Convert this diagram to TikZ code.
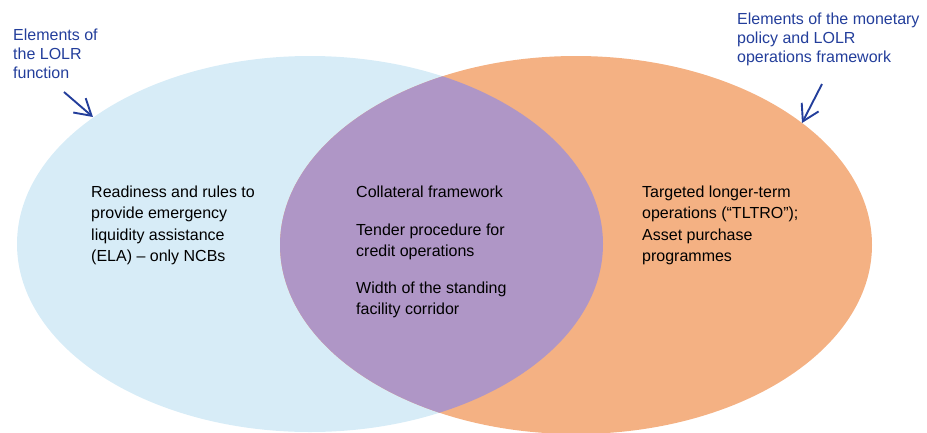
\documentclass[tikz,border=0pt]{standalone}
\usepackage{fontspec}
\setmainfont{Liberation Sans}
\usetikzlibrary{arrows.meta}
\definecolor{lolrblue}{RGB}{215,236,247}
\definecolor{mporange}{RGB}{244,177,131}
\definecolor{overlap}{RGB}{175,150,198}
\definecolor{labelblue}{RGB}{35,62,155}
\tikzset{
  bodytext/.style={anchor=north west, inner sep=0pt, align=left, text=black,
    font=\fontsize{16}{21.5}\selectfont},
  labeltext/.style={anchor=north west, inner sep=0pt, align=left, text=labelblue,
    font=\fontsize{16}{19}\selectfont},
  pointer/.style={draw=labelblue, line width=1.9pt,
    -{Straight Barb[length=16pt, width=19pt, line width=1.9pt]}}
}
\begin{document}
\begin{tikzpicture}[x=1pt, y=-1pt]
  \useasboundingbox (0,0) rectangle (927,432);
  % circles
  \fill[lolrblue] (310,244) ellipse [x radius=293pt, y radius=188pt];
  \fill[mporange] (576,245) ellipse [x radius=296pt, y radius=189pt];
  \begin{scope}
    \clip (310,244) ellipse [x radius=293pt, y radius=188pt];
    \fill[overlap] (576,245) ellipse [x radius=296pt, y radius=189pt];
  \end{scope}
  % labels
  \node[labeltext] (lolrlabel) at (13,28.3) {Elements of\\the LOLR\\function};
  \node[labeltext] (mplabel) at (737,12.3) {Elements of the monetary\\policy and LOLR\\operations framework};
  % arrows
  \coordinate (a1s) at (64,92);
  \coordinate (a1e) at (93,117);
  \coordinate (a2s) at (822,84);
  \coordinate (a2e) at (802,123);
  \draw[pointer] (a1s) -- (a1e);
  \draw[pointer] (a2s) -- (a2e);
  % texts
  \node[bodytext] (ela) at (91,185.3) {Readiness and rules to\\provide emergency\\liquidity assistance\\(ELA) -- only NCBs};
  \node[bodytext] (coll) at (356,185.3) {Collateral framework};
  \node[bodytext] (tender) at (356,223.3) {Tender procedure for\\credit operations};
  \node[bodytext] (width) at (356,281.3) {Width of the standing\\facility corridor};
  \node[bodytext] (tltro) at (642,185.3) {Targeted longer-term\\operations (“TLTRO”);\\Asset purchase\\programmes};
\end{tikzpicture}
\end{document}
